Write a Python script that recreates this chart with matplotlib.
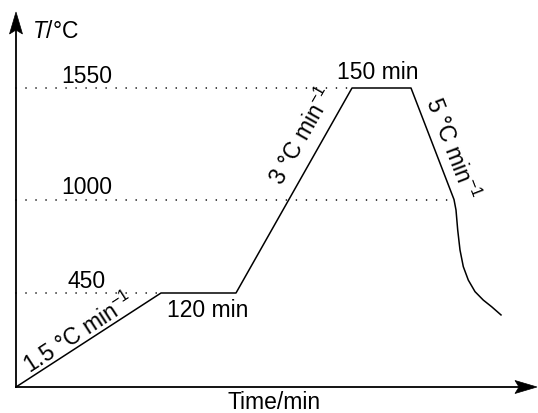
import numpy as np
import matplotlib
matplotlib.use("Agg")
import matplotlib.pyplot as plt
from matplotlib.transforms import Affine2D
from matplotlib.patches import Polygon

plt.rcParams['font.family'] = ['Liberation Sans', 'DejaVu Sans']
plt.rcParams['mathtext.fontset'] = 'custom'
plt.rcParams['mathtext.rm'] = 'Liberation Sans'
plt.rcParams['mathtext.it'] = 'Liberation Sans:italic'
plt.rcParams['mathtext.sf'] = 'Liberation Sans'
plt.rcParams['lines.scale_dashes'] = False

# ---- data (schematic temperature programme) ----
time_pts = [0, 145, 220, 336, 395, 438, 440, 441.7, 444, 447.3, 452.3, 459, 467.3, 475.7, 485]
temp_pts = [0, 450, 450, 1550, 1550, 1000, 938, 821, 703, 605, 526, 458, 416, 384, 345]
levels = [450, 1000, 1550]
level_labels = ['450', '1000', '1550']
level_ends = [145, 438, 336]
hold_labels = ['120 min', '150 min']
rate_labels = [r'1.5 °C min$^{-1}$', r'3 °C min$^{-1}$', r'5 °C min$^{-1}$']

# schematic (non-linear) temperature axis
T_nodes = np.array([-1000, 0, 450, 1000, 1550, 3000])
h_nodes = np.array([-209, 0, 94, 187.5, 299, 593])
def fwd(t):
    return np.interp(t, T_nodes, h_nodes)
def inv(h):
    return np.interp(h, h_nodes, T_nodes)

W, H = 538, 413
fig = plt.figure(figsize=(W / 100, H / 100), dpi=100)
pix = Affine2D().scale(1 / W, -1 / H).translate(0, 1) + fig.transFigure

x0, y0 = 16, 387
ax = fig.add_axes([x0 / W, (H - y0) / H, (537 - x0) / W, (y0 - 12) / H])
ax.set_yscale('function', functions=(fwd, inv))
ax.set_xlim(0, 521)
ax.set_ylim(0, inv(375))
ax.axis('off')

# profile
ax.plot(time_pts, temp_pts, color='black', lw=1.1, solid_joinstyle='round', clip_on=False)

# dotted reference levels
for lv, xe in zip(levels, level_ends):
    ax.plot([0, xe], [lv, lv], color='black', lw=1.2,
            linestyle=(0, (0.01, 7.2)), dash_capstyle='round', clip_on=False)

# axes with arrows
fig.add_artist(plt.Line2D([16, 16], [387, 28], color='black', lw=1.3, transform=pix))
fig.add_artist(plt.Line2D([16, 520], [387, 387], color='black', lw=1.3, transform=pix))
fig.add_artist(Polygon([[16, 12], [9.5, 34], [16, 30], [22.5, 34]], closed=True,
                       facecolor='black', edgecolor='black', lw=0.5, transform=pix))
fig.add_artist(Polygon([[537, 387], [515, 380.5], [519, 387], [515, 393.5]], closed=True,
                       facecolor='black', edgecolor='black', lw=0.5, transform=pix))

fs = 16.5
# axis labels
fig.text(56, 38, r'$T$/°C', transform=pix, fontsize=fs, ha='center', va='baseline')
fig.text(274, 409, 'Time/min', transform=pix, fontsize=fs, ha='center', va='baseline')

# level labels
for lab, yb in zip(level_labels, [288, 194, 83]):
    fig.text(87, yb, lab, transform=pix, fontsize=fs, ha='center', va='baseline')

# hold labels
fig.text(208, 317, hold_labels[0], transform=pix, fontsize=fs, ha='center', va='baseline')
fig.text(378, 79, hold_labels[1], transform=pix, fontsize=fs, ha='center', va='baseline')

# rate labels (rotated)
fig.text(79, 333, rate_labels[0], transform=pix, fontsize=fs, ha='center', va='center',
         rotation=33, rotation_mode='anchor')
fig.text(302, 136, rate_labels[1], transform=pix, fontsize=fs, ha='center', va='center',
         rotation=60.5, rotation_mode='anchor')
fig.text(452, 149, rate_labels[2], transform=pix, fontsize=fs, ha='center', va='center',
         rotation=-68.8, rotation_mode='anchor')

fig.savefig('out.png', dpi=100)
